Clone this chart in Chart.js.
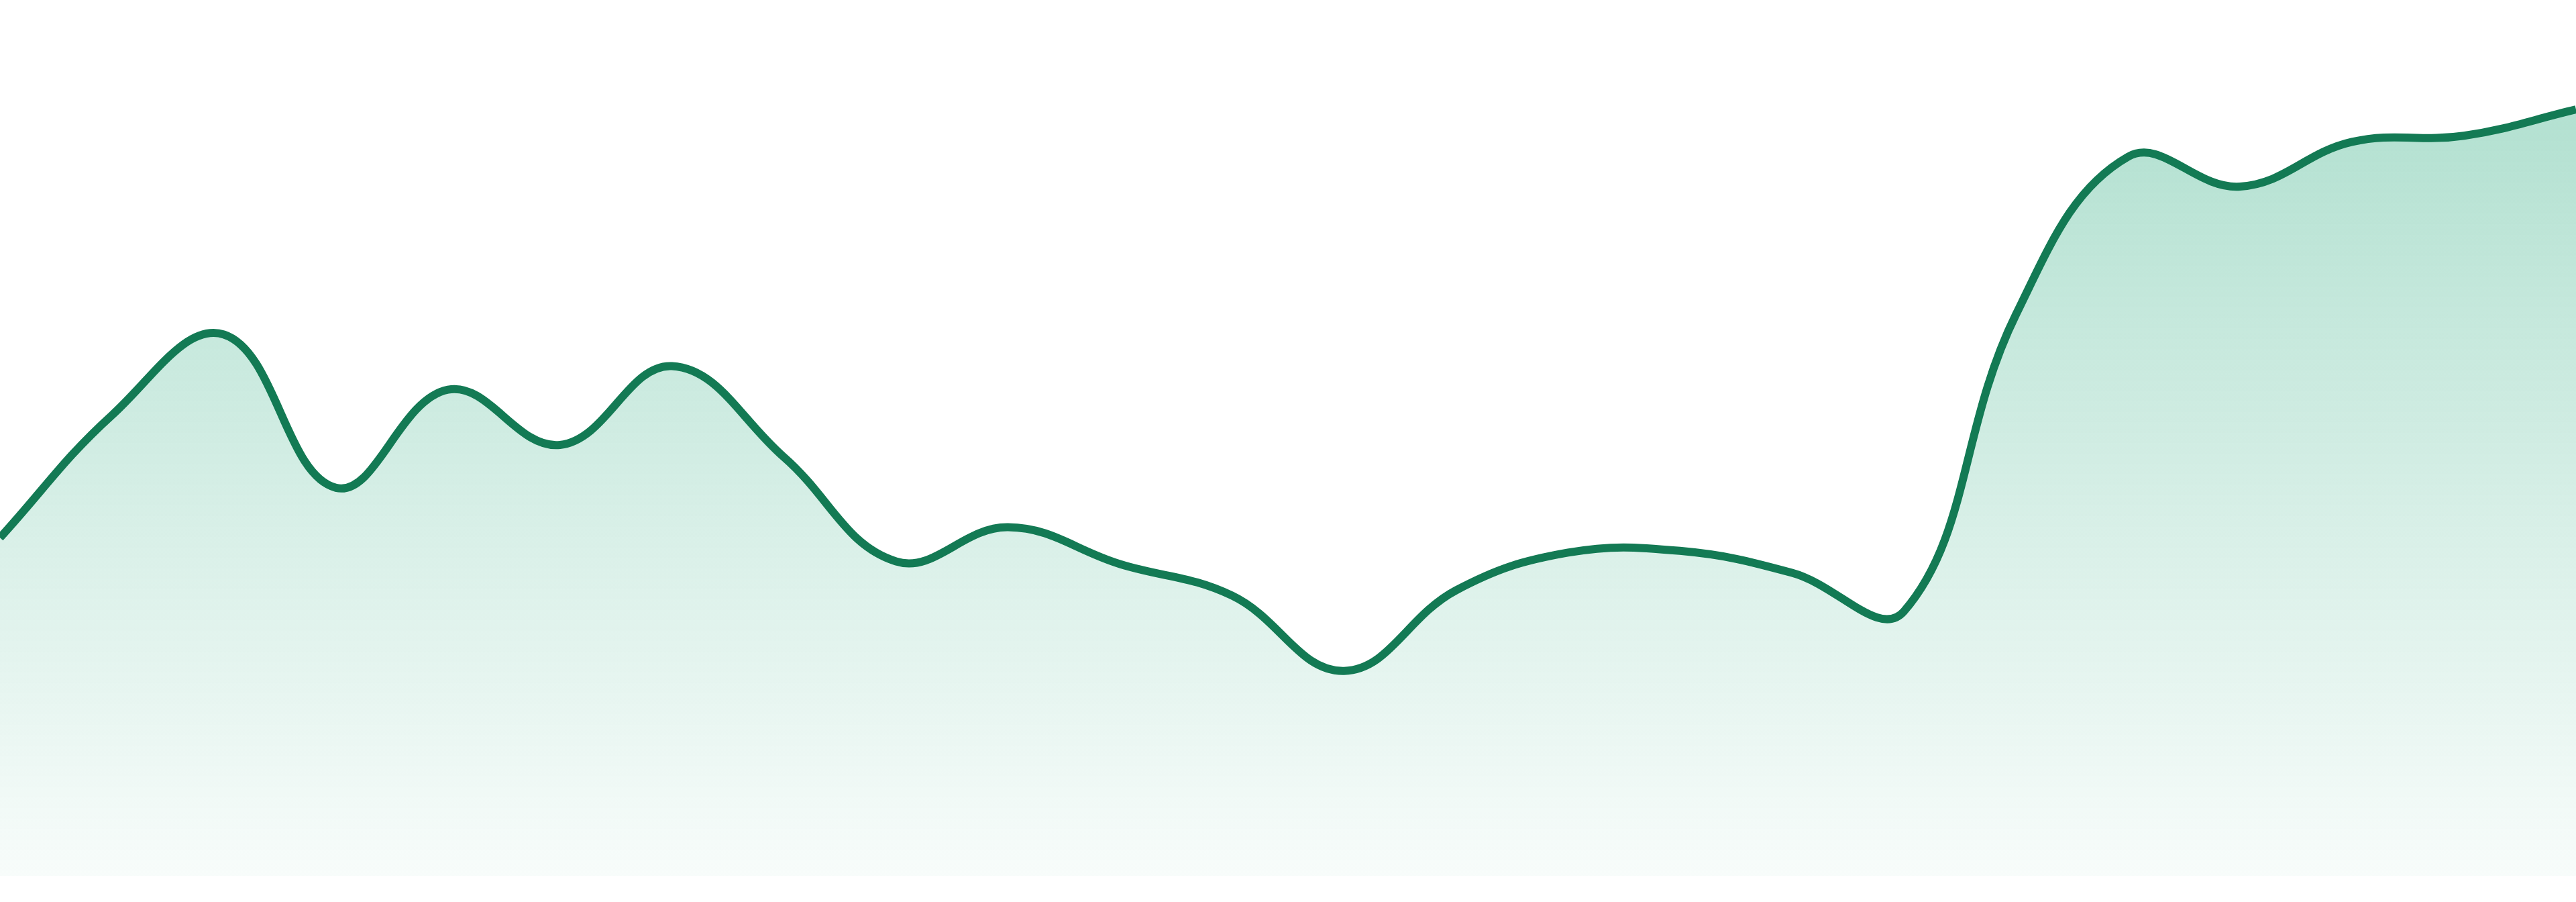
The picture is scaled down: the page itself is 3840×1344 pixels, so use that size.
<!DOCTYPE html>
<html lang="en">
<head>
    <meta charset="UTF-8">
    <title>Trend</title>
    <style>
        html, body {
            margin: 0;
            padding: 0;
            background: #ffffff;
            overflow: hidden;
        }
        .wrap {
            width: 3840px;
            height: 1344px;
        }
    </style>
</head>
<body>
    <div class="wrap">
        <canvas id="trendChart" width="3840" height="1344"></canvas>
    </div>

    <script src="https://cdn.jsdelivr.net/npm/chart.js"></script>
    <script>
        // 24 points, no axes shown
        const labels = ['1', '2', '3', '4', '5', '6', '7', '8', '9', '10', '11', '12',
                        '13', '14', '15', '16', '17', '18', '19', '20', '21', '22', '23', '24'];
        const values = [38.6, 52.6, 61.8, 44.3, 55.5, 49.2, 58.2, 47.8, 35.9, 39.8, 35.6, 32.0,
                        23.4, 32.6, 36.9, 37.1, 34.6, 30.2, 64.1, 82.1, 78.7, 83.8, 84.5, 87.5];
        const yMin = 0;
        const yMax = 100;

        const ctx = document.getElementById('trendChart').getContext('2d');
        new Chart(ctx, {
            type: 'line',
            data: {
                labels: labels,
                datasets: [{
                    data: values,
                    borderColor: '#137a54',
                    borderWidth: 12,
                    pointRadius: 0,
                    tension: 0.4,
                    fill: 'start',
                    backgroundColor: function (c) {
                        const area = c.chart.chartArea;
                        if (!area) return 'rgba(16,160,110,0.2)';
                        const g = c.chart.ctx.createLinearGradient(0, area.top, 0, area.bottom);
                        g.addColorStop(0, 'rgba(16,160,110,0.36)');
                        g.addColorStop(1, 'rgba(16,160,110,0.03)');
                        return g;
                    }
                }]
            },
            options: {
                responsive: false,
                animation: false,
                devicePixelRatio: 1,
                layout: { padding: { top: 0, bottom: 39, left: 0, right: 0 } },
                plugins: {
                    legend: { display: false },
                    tooltip: { enabled: false }
                },
                scales: {
                    x: { display: false, offset: false },
                    y: { display: false, min: yMin, max: yMax }
                }
            }
        });
    </script>
</body>
</html>
